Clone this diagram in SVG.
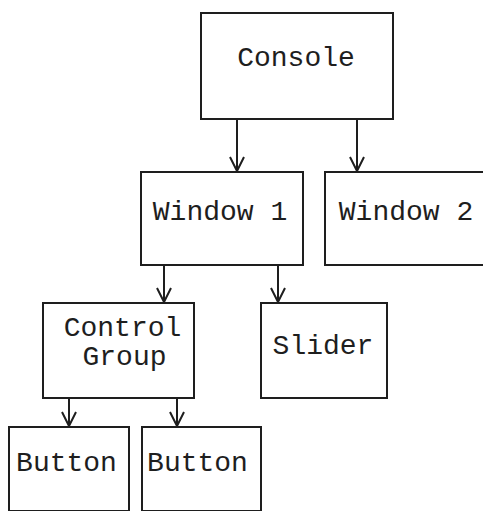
<svg xmlns="http://www.w3.org/2000/svg" width="483" height="511" viewBox="0 0 483 511">
  <style>
    .box { fill: #ffffff; stroke: #1e1e1e; stroke-width: 2; }
    .label { font-family: "Liberation Mono", "Courier New", monospace; font-size: 28px; fill: #1e1e1e; text-anchor: middle; }
    .edge { fill: none; stroke: #1e1e1e; stroke-width: 2; }
    .head { fill: none; stroke: #1e1e1e; stroke-width: 2; stroke-linejoin: miter; }
  </style>
  <rect width="483" height="511" fill="#ffffff"/>

  <g id="connectors">
    <!-- Console to windows -->
    <line class="edge" x1="237" y1="120" x2="237" y2="171"/>
    <polyline class="head" points="230,157 237,171 244,157"/>
    <line class="edge" x1="357" y1="120" x2="357" y2="171"/>
    <polyline class="head" points="350,157 357,171 364,157"/>
    <!-- Window 1 to children -->
    <line class="edge" x1="164" y1="265" x2="164" y2="302"/>
    <polyline class="head" points="157,288 164,302 171,288"/>
    <line class="edge" x1="278" y1="265" x2="278" y2="302"/>
    <polyline class="head" points="271,288 278,302 285,288"/>
    <!-- Control Group to buttons -->
    <line class="edge" x1="69" y1="398" x2="69" y2="426"/>
    <polyline class="head" points="62,412 69,426 76,412"/>
    <line class="edge" x1="177" y1="398" x2="177" y2="426"/>
    <polyline class="head" points="170,412 177,426 184,412"/>
  </g>

  <g id="console">
    <rect class="box" x="201" y="13" width="192" height="106"/>
    <text class="label" x="296" y="66">Console</text>
  </g>

  <g id="window1">
    <rect class="box" x="141" y="172" width="162" height="93"/>
    <text class="label" x="220" y="220">Window 1</text>
  </g>

  <g id="window2">
    <rect class="box" x="325" y="172" width="170" height="93"/>
    <text class="label" x="406" y="220">Window 2</text>
  </g>

  <g id="control-group">
    <rect class="box" x="43" y="303" width="151" height="95"/>
    <text class="label" x="122.5" y="336">Control</text>
    <text class="label" x="124.5" y="365">Group</text>
  </g>

  <g id="slider">
    <rect class="box" x="261" y="303" width="126" height="95"/>
    <text class="label" x="323" y="354">Slider</text>
  </g>

  <g id="button1">
    <rect class="box" x="9" y="427" width="120" height="84"/>
    <text class="label" x="66.5" y="471">Button</text>
  </g>

  <g id="button2">
    <rect class="box" x="142" y="427" width="119" height="84"/>
    <text class="label" x="197.5" y="471">Button</text>
  </g>
</svg>
